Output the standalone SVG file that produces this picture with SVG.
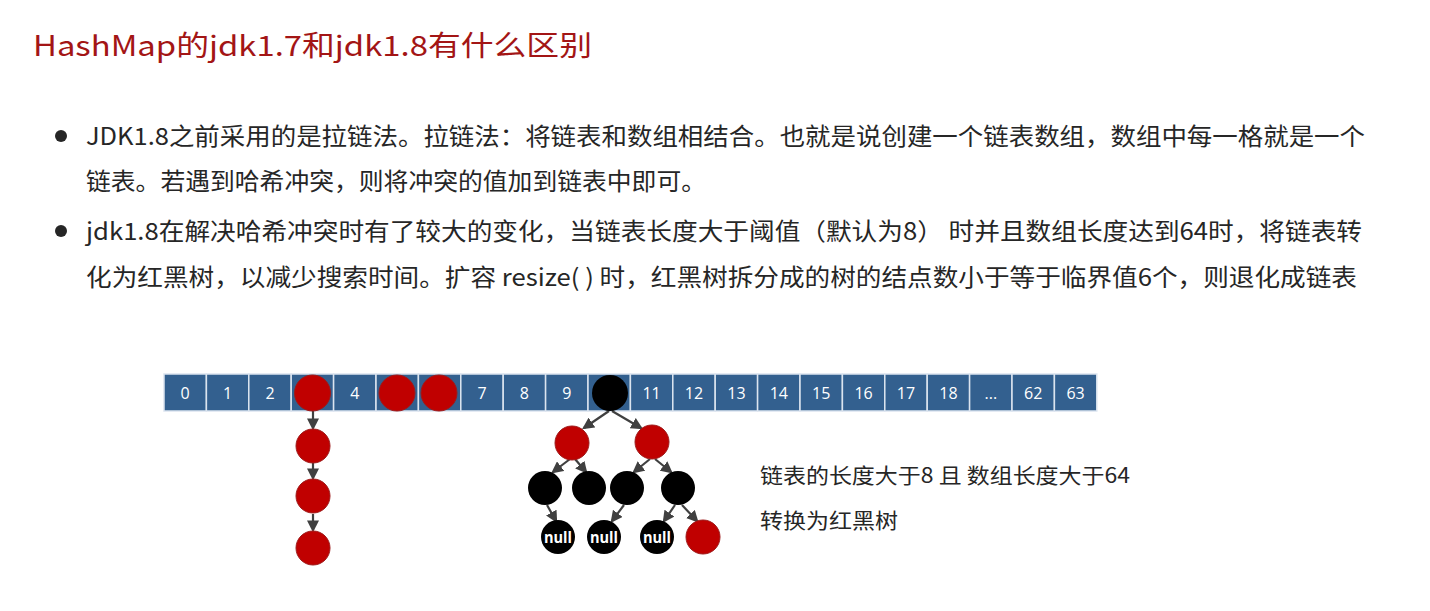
<svg xmlns="http://www.w3.org/2000/svg" width="1430" height="611" viewBox="0 0 1430 611">
<style>
.title{font-family:"Noto Sans CJK SC","Liberation Sans",sans-serif;font-size:28px;fill:#a31515}
.body{font-family:"Noto Sans CJK SC","Liberation Sans",sans-serif;font-size:24px;fill:#262626}
.note{font-family:"Noto Sans CJK SC","Liberation Sans",sans-serif;font-size:21px;fill:#262626}
.cell{fill:#33608f;stroke:#dbe4ef;stroke-width:1.5}
.num{font-family:"Open Sans","Liberation Sans",sans-serif;font-size:16px;fill:#ffffff;text-anchor:middle}
.red{fill:#c00000;stroke:#9e1a1a;stroke-width:1}
.blk{fill:#000000}
.nul{font-family:"Open Sans","Liberation Sans",sans-serif;font-size:16px;font-weight:bold;fill:#ffffff;text-anchor:middle}
.edge{stroke:#404040;stroke-width:2.2;fill:none;marker-end:url(#ah)}
</style>
<defs>
<marker id="ah" markerUnits="userSpaceOnUse" markerWidth="12" markerHeight="12" viewBox="0 0 10 10" refX="8" refY="5" orient="auto">
<path d="M0,0 L10,5 L0,10 z" fill="#404040"/>
</marker>
</defs>
<rect width="1430" height="611" fill="#ffffff"/>

<g id="title"><text class="title" x="33" y="56" textLength="559" lengthAdjust="spacingAndGlyphs">HashMap的jdk1.7和jdk1.8有什么区别</text></g>

<g id="bullets">
<circle cx="61" cy="136" r="6" fill="#262626"/>
<text class="body" x="86" y="145" textLength="1279" lengthAdjust="spacingAndGlyphs">JDK1.8之前采用的是拉链法。拉链法：将链表和数组相结合。也就是说创建一个链表数组，数组中每一格就是一个</text>
<text class="body" x="86" y="190" textLength="620" lengthAdjust="spacingAndGlyphs">链表。若遇到哈希冲突，则将冲突的值加到链表中即可。</text>
<circle cx="61" cy="231" r="6" fill="#262626"/>
<text class="body" x="86" y="240" textLength="1276" lengthAdjust="spacingAndGlyphs">jdk1.8在解决哈希冲突时有了较大的变化，当链表长度大于阈值（默认为8） 时并且数组长度达到64时，将链表转</text>
<text class="body" x="86" y="286" textLength="1271" lengthAdjust="spacingAndGlyphs">化为红黑树，以减少搜索时间。扩容 resize( ) 时，红黑树拆分成的树的结点数小于等于临界值6个，则退化成链表</text>
</g>

<g id="array">
<rect class="cell" x="164" y="374" width="42.4" height="37"/><text class="num" x="185.2" y="398.5">0</text>
<rect class="cell" x="206.4" y="374" width="42.4" height="37"/><text class="num" x="227.6" y="398.5">1</text>
<rect class="cell" x="248.8" y="374" width="42.4" height="37"/><text class="num" x="270" y="398.5">2</text>
<rect class="cell" x="291.2" y="374" width="42.4" height="37"/>
<rect class="cell" x="333.6" y="374" width="42.4" height="37"/><text class="num" x="354.8" y="398.5">4</text>
<rect class="cell" x="376" y="374" width="42.4" height="37"/>
<rect class="cell" x="418.4" y="374" width="42.4" height="37"/>
<rect class="cell" x="460.8" y="374" width="42.4" height="37"/><text class="num" x="482" y="398.5">7</text>
<rect class="cell" x="503.2" y="374" width="42.4" height="37"/><text class="num" x="524.4" y="398.5">8</text>
<rect class="cell" x="545.6" y="374" width="42.4" height="37"/><text class="num" x="566.8" y="398.5">9</text>
<rect class="cell" x="588" y="374" width="42.4" height="37"/>
<rect class="cell" x="630.4" y="374" width="42.4" height="37"/><text class="num" x="651.6" y="398.5">11</text>
<rect class="cell" x="672.8" y="374" width="42.4" height="37"/><text class="num" x="694" y="398.5">12</text>
<rect class="cell" x="715.2" y="374" width="42.4" height="37"/><text class="num" x="736.4" y="398.5">13</text>
<rect class="cell" x="757.6" y="374" width="42.4" height="37"/><text class="num" x="778.8" y="398.5">14</text>
<rect class="cell" x="800" y="374" width="42.4" height="37"/><text class="num" x="821.2" y="398.5">15</text>
<rect class="cell" x="842.4" y="374" width="42.4" height="37"/><text class="num" x="863.6" y="398.5">16</text>
<rect class="cell" x="884.8" y="374" width="42.4" height="37"/><text class="num" x="906" y="398.5">17</text>
<rect class="cell" x="927.2" y="374" width="42.4" height="37"/><text class="num" x="948.4" y="398.5">18</text>
<rect class="cell" x="969.6" y="374" width="42.4" height="37"/><text class="num" x="990.8" y="398.5">...</text>
<rect class="cell" x="1012" y="374" width="42.4" height="37"/><text class="num" x="1033.2" y="398.5">62</text>
<rect class="cell" x="1054.4" y="374" width="42.4" height="37"/><text class="num" x="1075.6" y="398.5">63</text>
</g>

<g id="connectors">
<line class="edge" x1="313" y1="411" x2="313" y2="428"/>
<line class="edge" x1="313" y1="463" x2="313" y2="478"/>
<line class="edge" x1="313" y1="514" x2="313" y2="530"/>
<line class="edge" x1="609" y1="411" x2="584" y2="428"/>
<line class="edge" x1="612" y1="411" x2="641" y2="428"/>
<line class="edge" x1="570" y1="459" x2="553" y2="472"/>
<line class="edge" x1="575" y1="459" x2="586" y2="472"/>
<line class="edge" x1="650" y1="459" x2="634" y2="472"/>
<line class="edge" x1="655" y1="459" x2="671" y2="472"/>
<line class="edge" x1="547" y1="505" x2="556" y2="521"/>
<line class="edge" x1="624" y1="505" x2="612" y2="521"/>
<line class="edge" x1="675" y1="505" x2="664" y2="521"/>
<line class="edge" x1="682" y1="505" x2="697" y2="521"/>
</g>

<g id="bucket3"><circle class="red" cx="312.5" cy="393" r="18"/></g>
<g id="bucket5"><circle class="red" cx="397" cy="393" r="18"/></g>
<g id="bucket6"><circle class="red" cx="439" cy="393" r="18"/></g>
<g id="list1"><circle class="red" cx="313" cy="446" r="17"/></g>
<g id="list2"><circle class="red" cx="313" cy="496" r="17"/></g>
<g id="list3"><circle class="red" cx="313" cy="548" r="17"/></g>

<g id="root"><circle class="blk" cx="610" cy="393" r="18"/></g>
<g id="l2a"><circle class="red" cx="572" cy="443" r="17"/></g>
<g id="l2b"><circle class="red" cx="652" cy="442" r="17"/></g>
<g id="l3a"><circle class="blk" cx="545" cy="488" r="17"/></g>
<g id="l3b"><circle class="blk" cx="589" cy="488" r="17"/></g>
<g id="l3c"><circle class="blk" cx="627" cy="488" r="17"/></g>
<g id="l3d"><circle class="blk" cx="678" cy="488" r="17"/></g>
<g id="n1"><circle class="blk" cx="558" cy="537" r="17"/><text class="nul" x="558" y="542.5" textLength="28" lengthAdjust="spacingAndGlyphs">null</text></g>
<g id="n2"><circle class="blk" cx="604" cy="537" r="17"/><text class="nul" x="604" y="542.5" textLength="28" lengthAdjust="spacingAndGlyphs">null</text></g>
<g id="n3"><circle class="blk" cx="657" cy="537" r="17"/><text class="nul" x="657" y="542.5" textLength="28" lengthAdjust="spacingAndGlyphs">null</text></g>
<g id="l4d"><circle class="red" cx="703" cy="537" r="17"/></g>

<g id="caption">
<text class="note" x="760" y="483" textLength="370" lengthAdjust="spacingAndGlyphs">链表的长度大于8 且 数组长度大于64</text>
<text class="note" x="760" y="528" textLength="138" lengthAdjust="spacingAndGlyphs">转换为红黑树</text>
</g>
</svg>
